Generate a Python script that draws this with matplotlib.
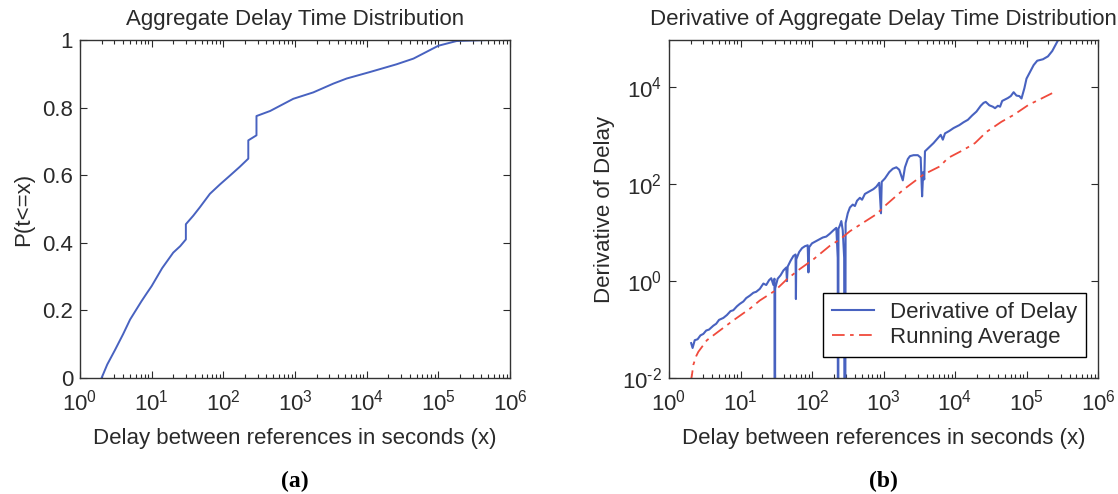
import matplotlib
matplotlib.use("Agg")
import matplotlib.pyplot as plt
import numpy as np
from matplotlib.ticker import LogLocator, NullLocator, NullFormatter

plt.rcParams["font.family"] = ["Liberation Sans", "DejaVu Sans"]
plt.rcParams["mathtext.default"] = "regular"
plt.rcParams["axes.unicode_minus"] = False

# (a) cumulative distribution of delay
cdf_x = [2.0, 2.4, 3.08, 4.0, 5.0, 6.0, 7.2, 8.5, 10, 14, 20, 25, 30, 30, 38, 47, 65,
         90, 124, 170, 223, 223, 290, 290, 450, 946, 1800, 3430, 5250, 1.1e4, 2.6e4,
         4.5e4, 1.0e5, 1.8e5, 5.25e5]
cdf_p = [0.0, 0.04, 0.083, 0.13, 0.173, 0.20, 0.227, 0.25, 0.272, 0.325, 0.371, 0.39,
         0.41, 0.455, 0.48, 0.505, 0.545, 0.573, 0.599, 0.625, 0.649, 0.703, 0.718,
         0.775, 0.79, 0.826, 0.845, 0.871, 0.886, 0.905, 0.928, 0.945, 0.983, 0.997, 1.0]

# (b) derivative of delay, log10 coordinates (None = zero)
deriv_logx = [0.31, 0.33, 0.36, 0.40, 0.44, 0.48, 0.52, 0.56, 0.62, 0.66, 0.70, 0.76,
              0.81, 0.86, 0.90, 0.95, 0.99, 1.04, 1.08, 1.13, 1.18, 1.22, 1.27, 1.32,
              1.36, 1.40, 1.43, 1.46, 1.475, 1.48, 1.485, 1.52, 1.56, 1.60, 1.64, 1.65,
              1.66, 1.70, 1.74, 1.77, 1.775, 1.78, 1.82, 1.86, 1.90, 1.94, 1.95, 1.96,
              2.00, 2.05, 2.10, 2.15, 2.20, 2.25, 2.30, 2.34, 2.36, 2.365, 2.37, 2.39,
              2.41, 2.43, 2.45, 2.46, 2.47, 2.50, 2.53, 2.57, 2.60, 2.63, 2.67, 2.70,
              2.74, 2.80, 2.86, 2.90, 2.94, 2.965, 2.975, 3.02, 3.08, 3.13, 3.18, 3.22,
              3.27, 3.30, 3.34, 3.37, 3.42, 3.48, 3.52, 3.54, 3.555, 3.57, 3.58, 3.63,
              3.70, 3.76, 3.80, 3.83, 3.86, 3.92, 3.98, 4.06, 4.12, 4.18, 4.24, 4.30,
              4.36, 4.40, 4.43, 4.48, 4.53, 4.56, 4.60, 4.63, 4.66, 4.70, 4.74, 4.78,
              4.82, 4.86, 4.90, 4.93, 4.97, 5.00, 5.05, 5.10, 5.15, 5.23, 5.30, 5.36,
              5.44, 5.48]
deriv_logy = [-1.28, -1.38, -1.22, -1.20, -1.12, -1.09, -1.02, -1.00, -0.92, -0.88,
              -0.80, -0.76, -0.70, -0.62, -0.60, -0.52, -0.47, -0.42, -0.35, -0.30,
              -0.24, -0.22, -0.16, -0.05, -0.08, 0.02, 0.06, -0.08, 0.05, None, -0.15,
              0.05, 0.12, 0.22, 0.28, 0.00, 0.30, 0.42, 0.52, 0.55, -0.37, 0.45, 0.60,
              0.68, 0.72, 0.74, 0.18, 0.70, 0.78, 0.82, 0.86, 0.90, 0.92, 0.98, 1.05,
              1.10, 0.48, None, 1.08, 1.15, 1.24, 1.05, 0.48, None, 1.20, 1.40, 1.52,
              1.58, 1.55, 1.66, 1.72, 1.68, 1.80, 1.85, 1.90, 1.95, 2.03, 1.40, 2.05,
              2.12, 2.25, 2.32, 2.35, 2.30, 2.08, 2.35, 2.52, 2.58, 2.60, 2.60, 2.55,
              1.75, 2.25, 2.10, 2.68, 2.75, 2.85, 2.95, 3.02, 2.92, 3.05, 3.10, 3.16,
              3.22, 3.28, 3.33, 3.42, 3.50, 3.62, 3.68, 3.70, 3.63, 3.60, 3.57, 3.62,
              3.60, 3.72, 3.75, 3.78, 3.82, 3.90, 3.83, 3.82, 3.77, 3.98, 4.18, 4.32,
              4.46, 4.55, 4.58, 4.64, 4.75, 4.97, 5.10]

avg_logx = [0.30, 0.32, 0.34, 0.38, 0.41, 0.53, 0.71, 0.90, 1.13, 1.27, 1.48, 1.65,
            1.83, 2.02, 2.25, 2.39, 2.53, 2.72, 2.90, 3.04, 3.28, 3.56, 3.79, 3.90,
            4.12, 4.28, 4.44, 4.65, 4.82, 5.03, 5.21, 5.40]
avg_logy = [-2.10, -1.95, -1.73, -1.55, -1.46, -1.22, -1.02, -0.81, -0.57, -0.40,
            -0.20, 0.04, 0.25, 0.45, 0.73, 0.86, 1.03, 1.21, 1.38, 1.58, 1.89, 2.20,
            2.37, 2.54, 2.71, 2.85, 3.08, 3.29, 3.43, 3.64, 3.77, 3.91]

x_decades = [0, 1, 2, 3, 4, 5, 6]
y_decades = [-2, 0, 2, 4]

deriv_x = 10 ** np.array(deriv_logx)
deriv_y = np.array([1e-9 if v is None else 10 ** v for v in deriv_logy])
avg_x = 10 ** np.array(avg_logx)
avg_y = 10 ** np.array(avg_logy)


def pow_label(e):
    s = str(e).replace("-", "\u2010")
    return "10$^{%s}$" % s


BLUE = "#4862c0"
RED = "#f04a3c"
TXT = "#2a2a2a"
FS = 16

fig = plt.figure(figsize=(11.18, 4.94), dpi=100)
ax1 = fig.add_axes([80 / 1118, 116 / 494, 430 / 1118, 338 / 494])
ax2 = fig.add_axes([669 / 1118, 116 / 494, 429 / 1118, 338 / 494])

ax1.plot(cdf_x, cdf_p, color=BLUE, lw=1.4)
ax1.set_xscale("log")
ax1.set_ylim(0, 1)
ax1.set_yticks([0, 0.2, 0.4, 0.6, 0.8, 1.0])
ax1.set_yticklabels(["0", "0.2", "0.4", "0.6", "0.8", "1"])
ax1.set_title("Aggregate Delay Time Distribution", fontsize=FS, color=TXT, pad=11)
ax1.set_ylabel("P(t<=x)", fontsize=FS, color=TXT, labelpad=6)

ax2.plot(deriv_x, deriv_y, color=BLUE, lw=1.5, label="Derivative of Delay")
ax2.plot(avg_x, avg_y, color=RED, lw=1.3, ls=(0, (7, 3, 2, 3)), label="Running Average")
ax2.set_xscale("log")
ax2.set_yscale("log")
ax2.set_ylim(1e-2, 9.5e4)
ax2.set_yticks([10.0 ** e for e in y_decades])
ax2.set_yticklabels([pow_label(e) for e in y_decades])
ax2.yaxis.set_minor_locator(NullLocator())
ax2.yaxis.set_minor_formatter(NullFormatter())
ax2.set_title("Derivative of Aggregate Delay Time Distribution", fontsize=FS, color=TXT, pad=11)
ax2.set_ylabel("Derivative of Delay", fontsize=FS, color=TXT, labelpad=5)
leg = ax2.legend(loc="lower right", bbox_to_anchor=(0.972, 0.062), borderaxespad=0,
                 fancybox=False, edgecolor="black", fontsize=FS, handlelength=1.9,
                 handletextpad=0.7, borderpad=0.4, labelspacing=0.2, framealpha=1)
leg.get_frame().set_linewidth(1.0)
for t in leg.get_texts():
    t.set_color(TXT)

for ax in (ax1, ax2):
    ax.set_xticks([10.0 ** e for e in x_decades])
    ax.set_xticklabels([pow_label(e) for e in x_decades])
    ax.xaxis.set_minor_locator(LogLocator(base=10, subs=np.arange(2, 10), numticks=20))
    ax.xaxis.set_minor_formatter(NullFormatter())
    ax.set_xlim(1, 1e6)
    ax.set_xlabel("Delay between references in seconds (x)", fontsize=FS, color=TXT,
                  labelpad=9)
    ax.tick_params(which="both", direction="in", top=True, right=True, colors=TXT,
                   labelsize=FS, width=0.8)
    ax.tick_params(which="major", length=5, pad=5)
    ax.tick_params(axis="x", which="major", pad=8)
    ax.tick_params(which="minor", length=3)
    for s in ax.spines.values():
        s.set_color("#333333")
        s.set_linewidth(1.0)

fig.text(295 / 1118, 1 - 481 / 494, "(a)", ha="center", va="center",
         family="Liberation Serif", weight="bold", fontsize=17, color="black")
fig.text(883 / 1118, 1 - 481 / 494, "(b)", ha="center", va="center",
         family="Liberation Serif", weight="bold", fontsize=17, color="black")

fig.savefig("out.png", dpi=100)
